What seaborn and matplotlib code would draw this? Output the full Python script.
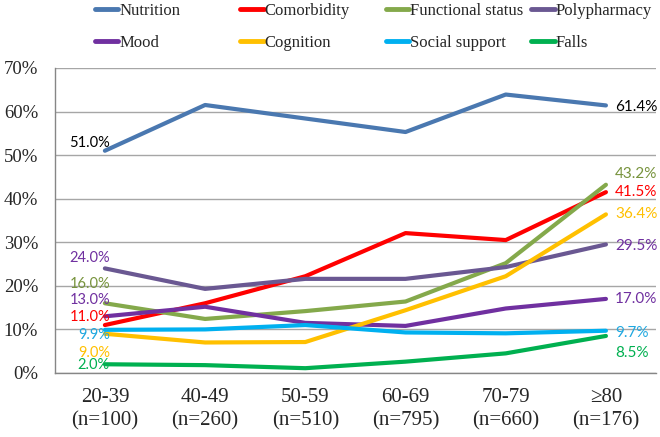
import numpy as np
import pandas as pd
import seaborn as sns
import matplotlib.pyplot as plt
from matplotlib.lines import Line2D

age_groups = ["20-39\n(n=100)", "40-49\n(n=260)", "50-59\n(n=510)",
              "60-69\n(n=795)", "70-79\n(n=660)", "\u226580\n(n=176)"]
domains = ["Nutrition", "Comorbidity", "Functional status", "Polypharmacy",
           "Mood", "Cognition", "Social support", "Falls"]

nutrition = [51.0, 61.5, 58.4, 55.3, 63.9, 61.4]
comorbidity = [11.0, 16.0, 22.2, 32.1, 30.5, 41.5]
functional = [16.0, 12.4, 14.2, 16.4, 25.2, 43.2]
polypharmacy = [24.0, 19.3, 21.6, 21.6, 24.3, 29.5]
mood = [13.0, 15.2, 11.5, 10.8, 14.8, 17.0]
cognition = [9.0, 7.0, 7.1, 14.4, 22.2, 36.4]
social = [9.9, 10.0, 11.0, 9.3, 9.1, 9.7]
falls = [2.0, 1.8, 1.1, 2.6, 4.5, 8.5]

series = [nutrition, comorbidity, functional, polypharmacy, mood, cognition, social, falls]

line_colors = ["#4A78B0", "#FF0000", "#84A94B", "#6A5892",
               "#7030A0", "#FFC000", "#00B0F0", "#00B050"]
label_colors = ["black", "#FF0000", "#77933C", "#7030A0",
                "#7030A0", "#FFC000", "#1FA8E0", "#00B050"]

# label offsets in pixels (first point, last point)
left_dy = [8, 8, 19, 10, 16, -19, -5, -1]
right_dy = [-2, 0, 11, -2, 0, 0, -2, -17]

rows = []
for name, vals in zip(domains, series):
    for g, v in zip(age_groups, vals):
        rows.append({"age": g, "pct": v, "domain": name})
df = pd.DataFrame(rows)

sns.set_style("white")
fig = plt.figure(figsize=(6.6, 4.37), dpi=100)
ax = fig.add_axes([0.083, 0.1465, 0.911, 0.698])

sns.lineplot(data=df, x="age", y="pct", hue="domain", hue_order=domains,
             palette=line_colors, lw=3, sort=False, errorbar=None,
             legend=False, ax=ax)

ax.set_xlim(-0.5, 5.5)
ax.set_ylim(0, 70)
ax.set_yticks(np.arange(0, 71, 10))
ax.set_yticklabels([f"{v}%" for v in range(0, 71, 10)],
                   family="Liberation Serif", fontsize=13.5)
ax.set_xticks(range(6))
ax.set_xticklabels(age_groups, family="Liberation Serif", fontsize=15, linespacing=1.3)
ax.set_xticks(np.arange(-0.5, 6, 1), minor=True)
ax.tick_params(axis="x", which="major", length=0, pad=11)
ax.tick_params(axis="x", which="minor", length=5, color="#868686", width=1)
ax.tick_params(axis="y", length=4, color="#868686", width=1, pad=8)
ax.set_xlabel("")
ax.set_ylabel("")
ax.grid(axis="y", color="#A6A6A6", lw=1)
ax.set_axisbelow(True)
for s in ["top", "right"]:
    ax.spines[s].set_visible(False)
for s in ["left", "bottom"]:
    ax.spines[s].set_color("#868686")
    ax.spines[s].set_linewidth(1)

for vals, lc, dl, dr in zip(series, label_colors, left_dy, right_dy):
    ax.annotate(f"{vals[0]:.1f}%", (0, vals[0]), xytext=(5, dl),
                textcoords="offset pixels", ha="right", va="center",
                color=lc, family="Lato", fontsize=10.5)
    ax.annotate(f"{vals[-1]:.1f}%", (5, vals[-1]), xytext=(9, dr),
                textcoords="offset pixels", ha="left", va="center",
                color=lc, family="Lato", fontsize=11)

# legend: 4 fixed-width columns, 2 rows
col_x = [0.144, 0.364, 0.585, 0.805]
for c in range(4):
    idx = [c, c + 4]
    handles = [Line2D([], [], color=line_colors[i], lw=3.5, solid_capstyle="round") for i in idx]
    leg = fig.legend(handles, [domains[i] for i in idx], loc="upper left",
                     bbox_to_anchor=(col_x[c], 0.993), frameon=False,
                     borderpad=0, borderaxespad=0, handlelength=1.4,
                     handletextpad=0.05, labelspacing=0.95,
                     prop={"family": "Liberation Serif", "size": 12})

fig.savefig("out.png", dpi=100)
